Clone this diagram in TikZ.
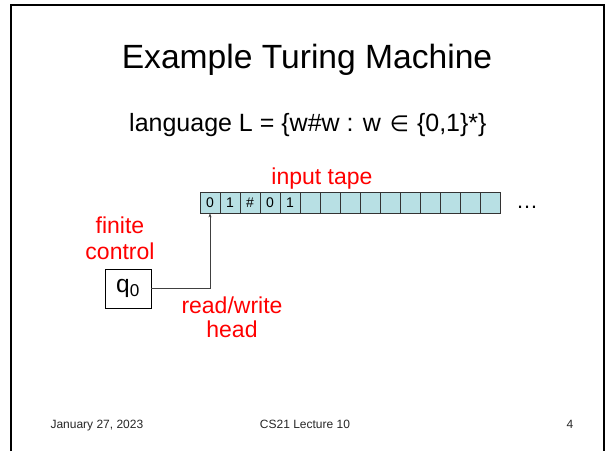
\documentclass[tikz,border=0pt]{standalone}
\usepackage{fontspec}
\setmainfont{Liberation Sans}
\newfontfamily\symfont{DejaVu Sans}
\usetikzlibrary{arrows.meta}
\definecolor{tapefill}{RGB}{184,224,228}
\definecolor{labelred}{RGB}{255,0,0}

\begin{document}
\begin{tikzpicture}[x=1pt,y=-1pt,
  titletext/.style={anchor=base,font=\fontsize{33.6}{40}\selectfont},
  bodytext/.style={anchor=base west,font=\fontsize{25}{30}\selectfont},
  redlabel/.style={anchor=base,text=labelred,font=\fontsize{23}{27}\selectfont},
  footer/.style={anchor=base,text=black!85,font=\fontsize{12}{14}\selectfont},
  cell/.style={draw=black!80,line width=0.8pt,fill=tapefill,minimum width=20pt,
    minimum height=21pt,inner sep=0pt,font=\fontsize{14}{14}\selectfont},
  statebox/.style={draw,line width=0.9pt,fill=white,minimum width=46pt,
    minimum height=39pt,inner sep=0pt,font=\fontsize{24.5}{29}\selectfont},
  headline/.style={draw=black!75,line width=0.8pt,-{Stealth[length=4pt,width=3pt]}}]
  \useasboundingbox (0,0) rectangle (610,451);

  % slide frame
  \draw[line width=2.6pt] (11,451) -- (11,5) -- (604,5) -- (604,451);

  % headings
  \node[titletext] (title) at (307,68) {Example Turing Machine};
  \node[bodytext,inner sep=0pt] (lang) at (129,131) {language L = \{w\#w : w\hspace{2pt} {\symfont\fontsize{22}{26}\selectfont ∈}\hspace{1pt} \{0,1\}*\}};

  % tape
  \foreach \i/\t in {1/0,2/1,3/\#,4/0,5/1}
    \node[cell] (c\i) at (190+20*\i,202.5) {\t};
  \foreach \i in {6,...,15}
    \node[cell] (c\i) at (190+20*\i,202.5) {};
  \node[anchor=base,font=\fontsize{22}{22}\selectfont] (dots) at (527,208) {…};
  \node[redlabel] (tapelabel) at (322,184) {input tape};

  % finite control
  \node[redlabel] (fin1) at (120,233) {finite};
  \node[redlabel] (fin2) at (120,259) {control};
  \node[statebox] (q0) at (128,288.5) {q\textsubscript{0}};

  % read/write head
  \draw[headline] (q0.east) -| (c1.south);
  \node[redlabel] (rw1) at (232,313) {read/write};
  \node[redlabel] (rw2) at (232,337) {head};

  % footer
  \node[footer,anchor=base west] (date) at (47,428) {January 27, 2023};
  \node[footer] (course) at (305,428) {CS21 Lecture 10};
  \node[footer] (page) at (570,428) {4};
\end{tikzpicture}
\end{document}
